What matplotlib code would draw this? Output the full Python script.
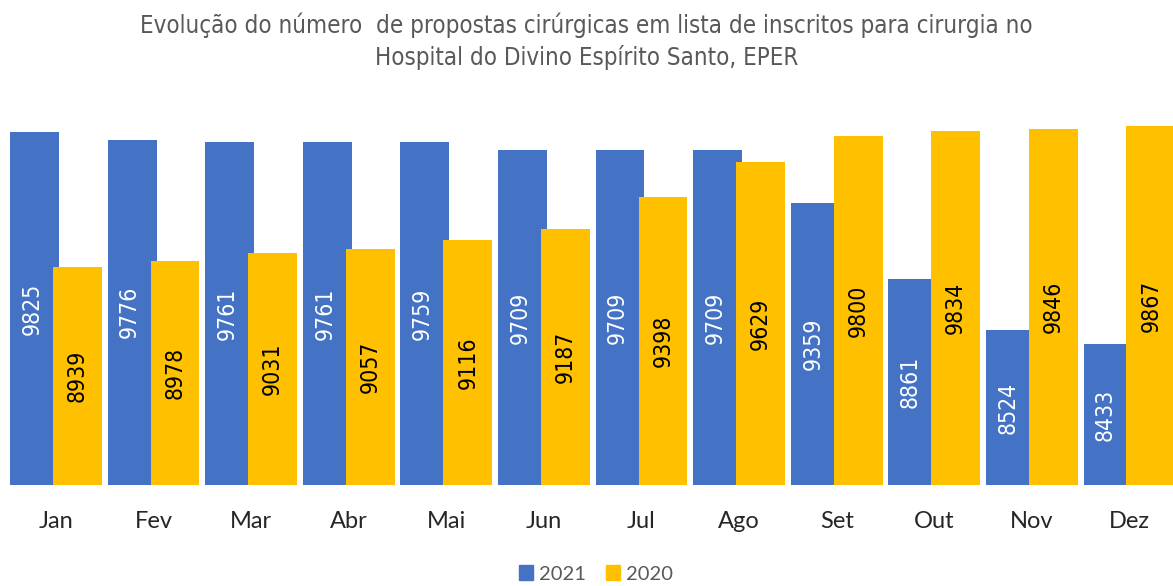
import numpy as np
import matplotlib
matplotlib.use('Agg')
import matplotlib.pyplot as plt
from matplotlib.patches import Patch

meses = ['Jan', 'Fev', 'Mar', 'Abr', 'Mai', 'Jun', 'Jul', 'Ago', 'Set', 'Out', 'Nov', 'Dez']
val_2021 = [9825, 9776, 9761, 9761, 9759, 9709, 9709, 9709, 9359, 8861, 8524, 8433]
val_2020 = [8939, 8978, 9031, 9057, 9116, 9187, 9398, 9629, 9800, 9834, 9846, 9867]

azul = '#4472C4'
ouro = '#FFC000'

fig = plt.figure(figsize=(11.73, 5.86), dpi=100)
ax = fig.add_axes([7.2 / 1173, 101 / 586, 1171 / 1173, 379.4 / 586])

x = np.arange(len(meses))
w = 0.5
off = 0.22
b1 = ax.bar(x - off, val_2021, w, color=azul, zorder=2)
b2 = ax.bar(x + off, val_2020, w, color=ouro, zorder=3)

ax.set_xlim(-0.5, 11.5)
ax.set_ylim(7510, 10000)

# labels inside the bars, rotated
for i in range(len(meses)):
    ax.text(x[i] - off - 0.025, (7510 + val_2021[i]) / 2, str(val_2021[i]), rotation=90,
            ha='center', va='center', color='white', fontsize=16.5, stretch='condensed', zorder=4)
    ax.text(x[i] + off, (7510 + val_2020[i]) / 2, str(val_2020[i]), rotation=90,
            ha='center', va='center', color='black', fontsize=16.5, stretch='condensed', zorder=4)

ax.set_xticks(x)
ax.set_xticklabels(meses, fontsize=17, color='#262626', family=['Lato', 'DejaVu Sans'])
ax.tick_params(axis='x', length=0, pad=19)
ax.set_yticks([])
for s in ax.spines.values():
    s.set_visible(False)

fig.text(0.5, 1 - 25 / 586, 'Evolução do número  de propostas cirúrgicas em lista de inscritos para cirurgia no',
         ha='center', va='center', fontsize=17.3, color='#595959', stretch='condensed')
fig.text(0.5, 1 - 58 / 586, 'Hospital do Divino Espírito Santo, EPER',
         ha='center', va='center', fontsize=17.3, color='#595959', stretch='condensed')

handles = [Patch(color=azul, label='2021'), Patch(color=ouro, label='2020')]
fig.legend(handles=handles, loc='center', bbox_to_anchor=(596 / 1173, 1 - 574 / 586), ncol=2,
           frameon=False, handlelength=0.7, handleheight=0.7, handletextpad=0.3,
           columnspacing=1.0, labelcolor='#595959', prop={'family': ['Lato', 'DejaVu Sans'], 'size': 14.5})

fig.savefig('out.png', dpi=100)
